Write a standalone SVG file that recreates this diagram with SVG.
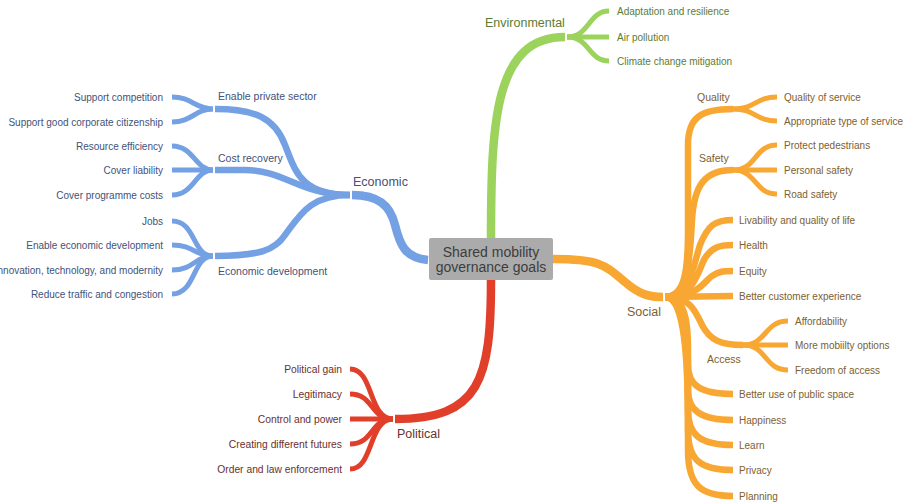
<svg xmlns="http://www.w3.org/2000/svg" width="906" height="503" viewBox="0 0 906 503">
<style>
text{font-family:"Liberation Sans",Arial,sans-serif;}
.leaf{font-size:10px;}
.pleaf{font-size:10.3px;}
.sub{font-size:10.5px;}
.main{font-size:12.5px;}
.eco{fill:#42527a;}
.env{fill:#5e7b33;}
.soc{fill:#7d6030;}
.pol{fill:#6b2f2f;}
path{fill:none;stroke-linecap:butt;}
.be{stroke:#74a0e4;}
.bn{stroke:#9bd35c;}
.bs{stroke:#f8a733;}
.bp{stroke:#e23f2b;}
.w1{stroke-width:8.5;}
.w2{stroke-width:6.5;}
.w3{stroke-width:5;}
.r{text-anchor:end;}
</style>
<rect width="906" height="503" fill="#ffffff"/>
<g id="connectors">
<path class="be w1" d="M428,260 C405,258 400,245 395,225 C390,205 378,195 352,195"/>
<path class="bn w1" d="M491,238 C491,120 495,37 565,37"/>
<path class="bs w1" d="M553,259 C600,259 605,265 625,282 C640,295 650,297 663,297"/>
<path class="bp w1" d="M491,280 C491,380 480,419 395,419"/>
<path class="be w2" d="M350,195 C300,195 295,170 285,145 C275,118 255,109 215,109"/>
<path class="be w2" d="M350,195 C300,195 285,170 245,170 L215,170"/>
<path class="be w2" d="M350,195 C310,195 300,215 285,235 C275,250 260,256 215,256"/>
<path class="be w3" d="M213,109 C195,109 192,97 172,97"/>
<path class="be w3" d="M213,109 C195,109 192,122 172,122"/>
<path class="be w3" d="M213,170 C195,170 194,146 172,146"/>
<path class="be w3" d="M213,170 L172,170"/>
<path class="be w3" d="M213,170 C195,170 194,195 172,195"/>
<path class="be w3" d="M213,256 C192,256 196,221 172,221"/>
<path class="be w3" d="M213,256 C195,256 194,245 172,245"/>
<path class="be w3" d="M213,256 C195,256 194,270 172,270"/>
<path class="be w3" d="M213,256 C192,256 196,294 172,294"/>
<path class="bn w3" d="M567,37 C590,37 588,11 609,11"/>
<path class="bn w3" d="M567,37 L609,37"/>
<path class="bn w3" d="M567,37 C590,37 588,61 609,61"/>
<path class="bp w3" d="M393,419 C368,419 374,369 350,369"/>
<path class="bp w3" d="M393,419 C370,419 374,394 350,394"/>
<path class="bp w3" d="M393,419 L350,419"/>
<path class="bp w3" d="M393,419 C370,419 374,444 350,444"/>
<path class="bp w3" d="M393,419 C368,419 374,469 350,469"/>
<path class="bs w2" d="M665,297 C685,297 688,270 688,230 L688,145 C688,118 700,109 733,109"/>
<path class="bs w2" d="M665,297 C688,297 690,260 692,220 C694,185 705,170 733,170"/>
<path class="bs w2" d="M665,297 C690,297 692,270 700,245 C708,225 715,220 733,220"/>
<path class="bs w2" d="M665,297 C695,297 698,270 705,258 C712,248 718,245 733,245"/>
<path class="bs w2" d="M665,297 C700,297 705,280 712,276 C718,272 722,271 733,271"/>
<path class="bs w2" d="M665,297 L733,296"/>
<path class="bs w2" d="M665,297 C690,297 695,310 702,325 C710,340 720,345 743,345"/>
<path class="bs w2" d="M665,297 C685,297 688,320 688,350 L688,365 C688,385 700,394 733,394"/>
<path class="bs w2" d="M665,297 C685,297 688,330 688,370 L688,390 C688,410 700,420 733,420"/>
<path class="bs w2" d="M665,297 C685,297 688,340 688,390 L688,410 C688,435 700,445 733,445"/>
<path class="bs w2" d="M665,297 C685,297 688,350 688,410 L688,430 C688,460 700,470 733,470"/>
<path class="bs w2" d="M665,297 C685,297 688,360 688,430 L688,450 C688,485 700,496 733,496"/>
<path class="bs w3" d="M733,109 C756,109 755,97 777,97"/>
<path class="bs w3" d="M733,109 C756,109 755,121 777,121"/>
<path class="bs w3" d="M733,170 C757,170 754,145 777,145"/>
<path class="bs w3" d="M733,170 L777,170"/>
<path class="bs w3" d="M733,170 C757,170 754,194 777,194"/>
<path class="bs w3" d="M743,345 C767,345 764,321 788,321"/>
<path class="bs w3" d="M743,345 L788,345"/>
<path class="bs w3" d="M743,345 C767,345 764,370 788,370"/>
</g>
<g id="center">
<rect x="429" y="238" width="124" height="42" rx="2" fill="#ababab"/>
<text x="491" y="257" font-size="14" text-anchor="middle" fill="#3d3d3d">Shared mobility</text>
<text x="491" y="272" font-size="14" text-anchor="middle" fill="#3d3d3d">governance goals</text>
</g>
<g id="economic"><text class="main eco" x="353" y="186">Economic</text></g>
<g id="enable-private-sector"><text class="sub eco" x="218" y="100">Enable private sector</text></g>
<g id="support-competition"><text class="leaf eco r" x="163" y="100.5">Support competition</text></g>
<g id="support-citizenship"><text class="leaf eco r" x="163" y="125.5">Support good corporate citizenship</text></g>
<g id="cost-recovery"><text class="sub eco" x="218" y="162">Cost recovery</text></g>
<g id="resource-efficiency"><text class="leaf eco r" x="163" y="149.5">Resource efficiency</text></g>
<g id="cover-liability"><text class="leaf eco r" x="163" y="173.5">Cover liability</text></g>
<g id="cover-costs"><text class="leaf eco r" x="163" y="198.5">Cover programme costs</text></g>
<g id="economic-development"><text class="sub eco" x="218" y="275">Economic development</text></g>
<g id="jobs"><text class="leaf eco r" x="163" y="224.5">Jobs</text></g>
<g id="enable-econ-dev"><text class="leaf eco r" x="163" y="248.5">Enable economic development</text></g>
<g id="innovation"><text class="leaf eco r" x="163" y="273.5">Innovation, technology, and modernity</text></g>
<g id="reduce-traffic"><text class="leaf eco r" x="163" y="297.5">Reduce traffic and congestion</text></g>
<g id="environmental"><text class="main env" x="485" y="27">Environmental</text></g>
<g id="adaptation"><text class="leaf env" x="617" y="14.5">Adaptation and resilience</text></g>
<g id="air-pollution"><text class="leaf env" x="617" y="40.5">Air pollution</text></g>
<g id="climate"><text class="leaf env" x="617" y="64.5">Climate change mitigation</text></g>
<g id="political"><text class="main pol" x="397" y="438">Political</text></g>
<g id="political-gain"><text class="pleaf pol r" x="342" y="372.5">Political gain</text></g>
<g id="legitimacy"><text class="pleaf pol r" x="342" y="397.5">Legitimacy</text></g>
<g id="control"><text class="pleaf pol r" x="342" y="422.5">Control and power</text></g>
<g id="futures"><text class="pleaf pol r" x="342" y="447.5">Creating different futures</text></g>
<g id="order"><text class="pleaf pol r" x="342" y="472.5">Order and law enforcement</text></g>
<g id="social"><text class="main soc" x="627" y="316">Social</text></g>
<g id="quality"><text class="sub soc" x="697" y="101">Quality</text></g>
<g id="quality-of-service"><text class="leaf soc" x="784" y="100.5">Quality of service</text></g>
<g id="appropriate-type"><text class="leaf soc" x="784" y="124.5">Appropriate type of service</text></g>
<g id="safety"><text class="sub soc" x="699" y="162">Safety</text></g>
<g id="protect-pedestrians"><text class="leaf soc" x="784" y="148.5">Protect pedestrians</text></g>
<g id="personal-safety"><text class="leaf soc" x="784" y="173.5">Personal safety</text></g>
<g id="road-safety"><text class="leaf soc" x="784" y="197.5">Road safety</text></g>
<g id="livability"><text class="leaf soc" x="739" y="223.5">Livability and quality of life</text></g>
<g id="health"><text class="leaf soc" x="739" y="248.5">Health</text></g>
<g id="equity"><text class="leaf soc" x="739" y="274.5">Equity</text></g>
<g id="customer-experience"><text class="leaf soc" x="739" y="299.5">Better customer experience</text></g>
<g id="access"><text class="sub soc" x="707" y="363">Access</text></g>
<g id="affordability"><text class="leaf soc" x="795" y="324.5">Affordability</text></g>
<g id="mobility-options"><text class="leaf soc" x="795" y="348.5">More mobiilty options</text></g>
<g id="freedom"><text class="leaf soc" x="795" y="373.5">Freedom of access</text></g>
<g id="public-space"><text class="leaf soc" x="739" y="397.5">Better use of public space</text></g>
<g id="happiness"><text class="leaf soc" x="739" y="423.5">Happiness</text></g>
<g id="learn"><text class="leaf soc" x="739" y="448.5">Learn</text></g>
<g id="privacy"><text class="leaf soc" x="739" y="473.5">Privacy</text></g>
<g id="planning"><text class="leaf soc" x="739" y="499.5">Planning</text></g>
</svg>
